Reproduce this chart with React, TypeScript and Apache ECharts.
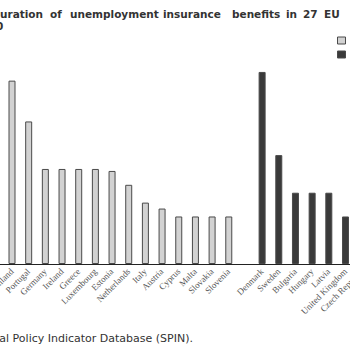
import React, { useEffect, useRef } from "react";
import * as echarts from "echarts";

const categories = [
  "", "Finland", "Portugal", "Germany", "Ireland", "Greece", "Luxembourg", "Estonia",
  "Netherlands", "Italy", "Austria", "Cyprus", "Malta", "Slovakia", "Slovenia", "",
  "Denmark", "Sweden", "Bulgaria", "Hungary", "Latvia", "United Kingdom", "Czech Republic",
];
const groupA = [
  null, 46.3, 36, 24, 24, 24, 24, 23.5, 20, 15.5, 14, 12, 12, 12, 12, null,
  null, null, null, null, null, null, null,
];
const groupB = [
  null, null, null, null, null, null, null, null, null, null, null, null, null, null, null, null,
  48.5, 27.5, 18, 18, 18, 12, 6,
];
const seriesNames = ["Earnings-related schemes", "Other schemes"];
const titleWords = ["uration", "of", "unemployment", "insurance", "benefits", "in", "27", "EU"];
const titleWordX = [0, 50, 70, 163, 232, 286, 303, 324];
const sourceText = "Source: Social Policy Indicator Database (SPIN).";

export default function App() {
  const ref = useRef<HTMLDivElement>(null);
  useEffect(() => {
    if (!ref.current) return;
    const chart = echarts.init(ref.current, null, { renderer: "svg" });
    const lightStyle = { color: "#d2d2d2", borderColor: "#4a4a4a", borderWidth: 1 };
    const darkStyle = { color: "#3a3a3a", borderColor: "#4a4a4a", borderWidth: 1 };
    chart.setOption({
      animation: false,
      backgroundColor: "#ffffff",
      grid: {
        left: -13,
        width: 383.5,
        top: 26.4,
        bottom: 86,
        containLabel: false,
        outerBoundsMode: "none",
      },
      legend: {
        orient: "vertical",
        left: 337,
        top: 36,
        padding: 0,
        itemWidth: 8,
        itemHeight: 7,
        itemGap: 5,
        icon: "rect",
        textStyle: { fontSize: 9, color: "#333", fontFamily: "DejaVu Sans" },
        data: [
          { name: seriesNames[0], itemStyle: lightStyle },
          { name: seriesNames[1], itemStyle: darkStyle },
        ],
      },
      xAxis: {
        type: "category",
        data: categories,
        axisLine: { show: true, lineStyle: { color: "#222", width: 1 } },
        axisTick: { show: false },
        axisLabel: {
          interval: 0,
          rotate: 45,
          fontSize: 9,
          margin: 6,
          color: "#555",
          fontFamily: "Liberation Serif",
        },
      },
      yAxis: {
        type: "value",
        min: 0,
        max: 60,
        show: false,
        splitLine: { show: false },
      },
      series: [
        {
          name: seriesNames[0],
          type: "bar",
          data: groupA,
          barWidth: 7,
          barGap: "-100%",
          itemStyle: lightStyle,
        },
        {
          name: seriesNames[1],
          type: "bar",
          data: groupB,
          barWidth: 7,
          itemStyle: darkStyle,
        },
      ],
      graphic: [
        ...titleWords.map((w, i) => ({
          type: "text",
          left: titleWordX[i],
          top: 8,
          style: {
            text: w,
            font: "bold 10.5px 'DejaVu Sans'",
            fill: "#333",
          },
        })),
        {
          type: "text",
          left: -4,
          top: 20,
          style: { text: "0", font: "bold 10.5px 'DejaVu Sans'", fill: "#333" },
        },
        {
          type: "text",
          right: 157,
          top: 333,
          style: { text: sourceText, font: "11px 'DejaVu Sans'", fill: "#333" },
        },
      ],
    });
    return () => chart.dispose();
  }, []);
  return (
    <div
      ref={ref}
      style={{ position: "fixed", left: 0, top: 0, width: 350, height: 350, background: "#fff" }}
    />
  );
}
